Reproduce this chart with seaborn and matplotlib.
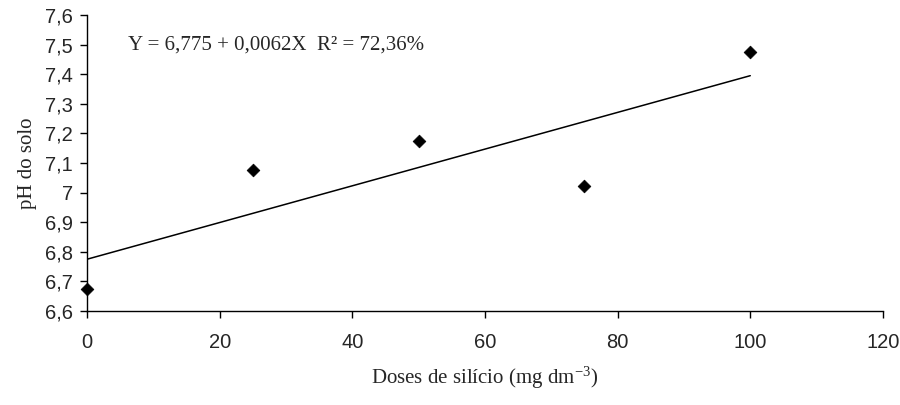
import numpy as np
import pandas as pd
import matplotlib
matplotlib.use("Agg")
import matplotlib.pyplot as plt
import seaborn as sns

doses = [0, 25, 50, 75, 100]
ph_solo = [6.674, 7.076, 7.173, 7.023, 7.475]

# fitted equation given on the chart
intercept = 6.775
slope = 0.0062
fit_x = [0, 100]
fit_y = [intercept + slope * v for v in fit_x]

x_ticks = [0, 20, 40, 60, 80, 100, 120]
y_ticks = [6.6, 6.7, 6.8, 6.9, 7.0, 7.1, 7.2, 7.3, 7.4, 7.5, 7.6]
y_labels = ["6,6", "6,7", "6,8", "6,9", "7", "7,1", "7,2", "7,3", "7,4", "7,5", "7,6"]

sns.set_style("ticks")
plt.rcParams["font.family"] = ["Liberation Sans", "DejaVu Sans"]
plt.rcParams["mathtext.fontset"] = "custom"
plt.rcParams["mathtext.rm"] = "Liberation Serif"

fig = plt.figure(figsize=(9, 4.05), dpi=100)
ax = fig.add_axes([0.0967, 0.232, 0.8843, 0.731])

df = pd.DataFrame({"dose": doses, "ph": ph_solo})
fit = pd.DataFrame({"dose": fit_x, "ph": fit_y})

sns.lineplot(data=fit, x="dose", y="ph", color="black", linewidth=1.1, ax=ax)
sns.scatterplot(data=df, x="dose", y="ph", marker="D", s=42, color="black",
                edgecolor="black", zorder=5, clip_on=False, ax=ax)

ax.set_xlim(0, 120)
ax.set_ylim(6.6, 7.6)
ax.set_xticks(x_ticks)
ax.set_yticks(y_ticks)
ax.set_yticklabels(y_labels)
ax.tick_params(axis="both", labelsize=14.5, direction="out", length=5, width=1, color="black")
ax.tick_params(axis="x", pad=11)
ax.tick_params(axis="y", pad=5)
for side in ["top", "right"]:
    ax.spines[side].set_visible(False)
for side in ["left", "bottom"]:
    ax.spines[side].set_color("black")
    ax.spines[side].set_linewidth(1)

serif = ["Liberation Serif", "DejaVu Serif"]
ax.set_xlabel("Doses de silício (mg dm$\\mathrm{^{-3}}$)", fontsize=15, family=serif, labelpad=9)
ax.set_ylabel("pH do solo", fontsize=15, family=serif, labelpad=6)
ax.text(6.2, 7.5, "Y = 6,775 + 0,0062X  R² = 72,36%", fontsize=15, family=serif,
        va="center", ha="left")

fig.savefig("out.png", dpi=100)
